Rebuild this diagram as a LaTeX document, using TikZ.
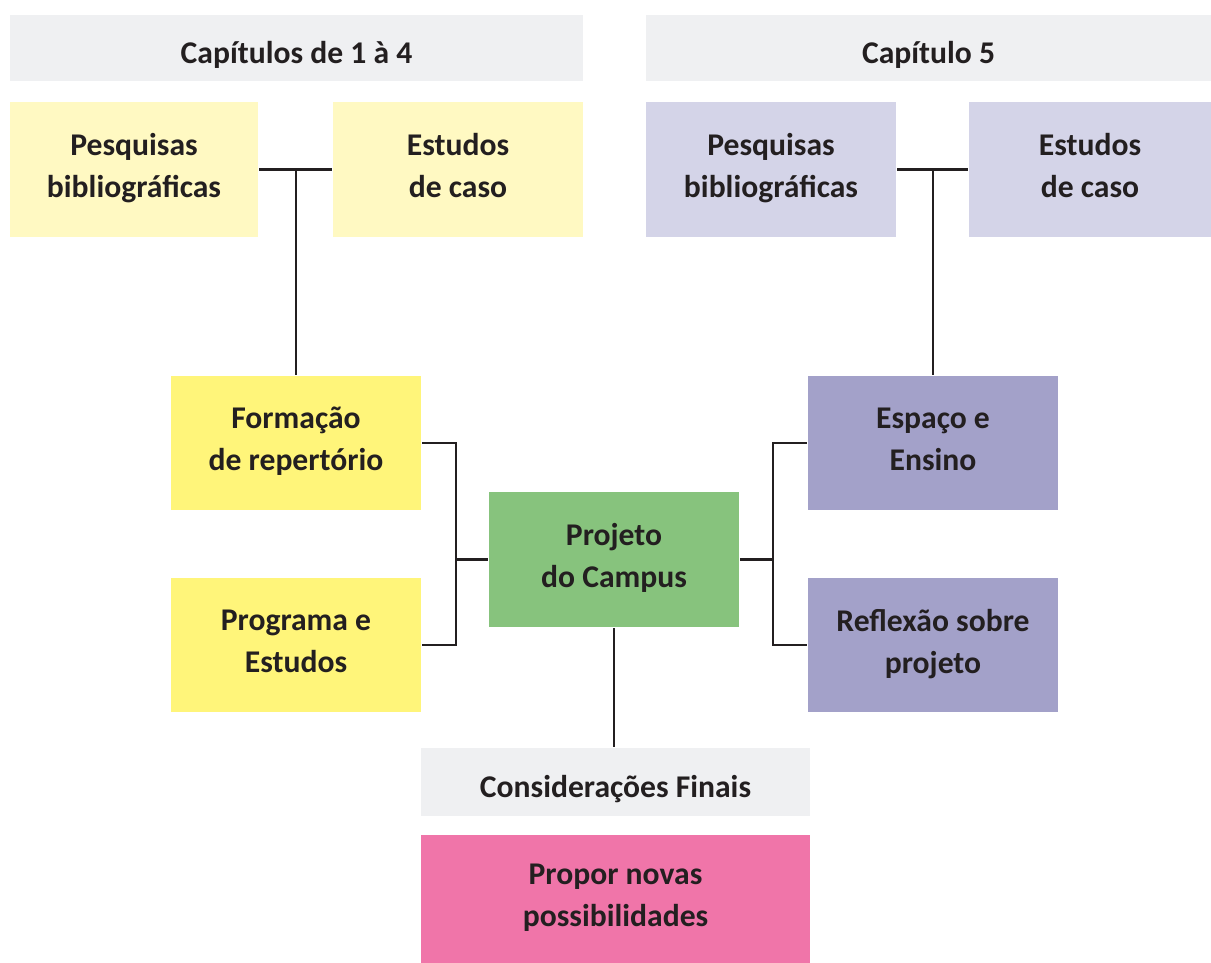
\documentclass[tikz,border=0pt]{standalone}
\usepackage{fontspec}
\setmainfont{Carlito}
\definecolor{txt}{HTML}{231F20}
\definecolor{headgray}{HTML}{EFF0F2}
\definecolor{paleyellow}{HTML}{FFF9C2}
\definecolor{yellow}{HTML}{FFF57A}
\definecolor{green}{HTML}{87C37D}
\definecolor{palepurple}{HTML}{D4D4E8}
\definecolor{purple}{HTML}{A3A1C9}
\definecolor{pink}{HTML}{F075A9}
\begin{document}
\begin{tikzpicture}[x=0.02cm, y=-0.02cm, line width=1.2pt, draw=txt,
                    base/.style={rectangle, inner sep=0pt, align=center, text=txt,
                      font=\bfseries\fontsize{18}{24}\selectfont,
                      minimum width=5cm, minimum height=2.7cm},
                    box/.style={base,
                      execute at begin node={\rule{0pt}{16.8pt}},
                      execute at end node={\rule[-4.5pt]{0pt}{0pt}}},
                    head/.style={base, fill=headgray, minimum height=1.32cm,
                      execute at begin node={\rule{0pt}{20.8pt}}}]

  \useasboundingbox (0,0) rectangle (1211,963);

  % headers
  \node[head, minimum width=11.46cm] (hL) at (296.5, 48) {Capítulos de 1 à 4};
  \node[head, minimum width=11.3cm] (hR) at (928.5, 48) {Capítulo 5};

  % sources
  \node[box, fill=paleyellow, minimum width=4.96cm] (pL) at (134, 169.5) {Pesquisas\\bibliográficas};
  \node[box, fill=paleyellow] (eL) at (458, 169.5) {Estudos\\de caso};
  \node[box, fill=palepurple] (pR) at (771, 169.5) {Pesquisas\\bibliográficas};
  \node[box, fill=palepurple, minimum width=4.84cm] (eR) at (1090, 169.5) {Estudos\\de caso};

  % middle
  \node[box, fill=yellow, minimum height=2.68cm] (form) at (296, 443) {Formação\\de repertório};
  \node[box, fill=yellow, minimum height=2.68cm] (prog) at (296, 645) {Programa e\\Estudos};
  \node[box, fill=green] (proj) at (614, 559.5) {Projeto\\do Campus};
  \node[box, fill=purple, minimum height=2.68cm] (esp) at (933, 443) {Espaço e\\Ensino};
  \node[box, fill=purple, minimum height=2.68cm] (refl) at (933, 645) {Reflexão sobre\\projeto};

  % bottom
  \node[head, minimum width=7.78cm, minimum height=1.36cm] (cons) at (615.5, 782) {Considerações Finais};
  \node[box, fill=pink, minimum width=7.78cm, minimum height=2.56cm] (prop) at (615.5, 899) {Propor novas\\possibilidades};

  \coordinate (bl) at (456, 559.5);
  \coordinate (br) at (773, 559.5);

  \draw (pL) -- (eL);
  \draw (pR) -- (eR);
  \draw (form.north) -- (form.north |- pL.east);
  \draw (esp.north) -- (esp.north |- pR.east);
  \draw (form.east) -| (bl) |- (prog.east);
  \draw (bl) -- (proj.west);
  \draw (esp.west) -| (br) |- (refl.west);
  \draw (br) -- (proj.east);
  \draw (proj.south) -- (proj.south |- cons.north);

\end{tikzpicture}
\end{document}
